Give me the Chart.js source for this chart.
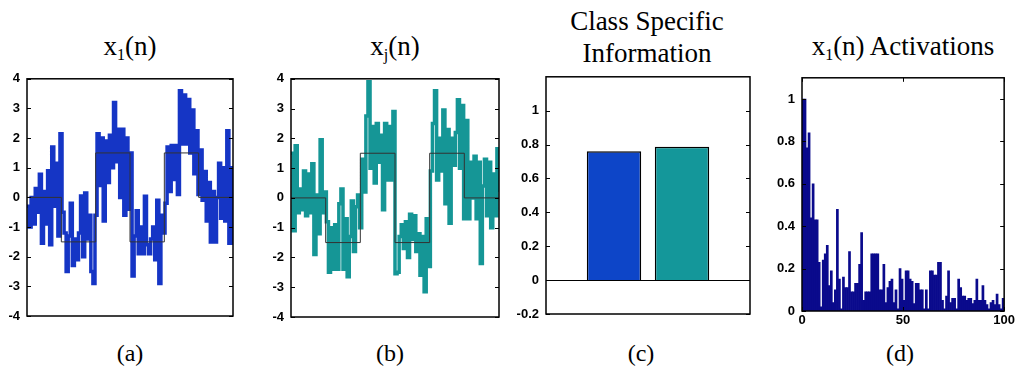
<!DOCTYPE html>
<html><head><meta charset="utf-8">
<script src="https://cdn.jsdelivr.net/npm/chart.js@4.4.1/dist/chart.umd.min.js"></script>
<style>
body{margin:0;width:1016px;height:367px;background:#fff;position:relative;overflow:hidden;font-family:'Liberation Serif','Times New Roman',serif;color:#000;}
canvas{position:absolute;}
.t{position:absolute;width:300px;text-align:center;font-size:27px;line-height:30px;white-space:nowrap;}
.t2{line-height:32px;}
.t sub{font-size:16px;vertical-align:-5px;line-height:0;}
.cap{position:absolute;width:100px;text-align:center;font-size:24px;line-height:26px;}
</style></head><body>
<div class="t" style="left:-20px;top:31px">x<sub>1</sub>(n)</div>
<div class="t" style="left:245px;top:31px">x<sub>j</sub>(n)</div>
<div class="t t2" style="left:497px;top:5px">Class Specific<br>Information</div>
<div class="t" style="left:753px;top:31px">x<sub>1</sub>(n) Activations</div>
<div class="cap" style="left:80px;top:340px">(a)</div>
<div class="cap" style="left:340px;top:340px">(b)</div>
<div class="cap" style="left:591px;top:340px">(c)</div>
<div class="cap" style="left:850px;top:340px">(d)</div>
<canvas id="ca"></canvas>
<canvas id="cb"></canvas>
<canvas id="cc"></canvas>
<canvas id="cd"></canvas>
<script>
// ---- data ----
const x1Values = [
 -0.3, -1.0, 0.0, -0.9, 0.3, -0.5, 0.78, -1.55, 0.2, -0.9,
 0.9, -1.6, 1.7, -0.3, 1.15, -1.3, 2.15, -0.5, -1.2, -2.5,
 -1.3, -0.2, -2.3, -1.4, -2.1, -1.2, 0.05, -2.0, 0.15, -1.4,
 -0.6, -2.5, -2.9, -0.6, 2.15, 0.4, 2.0, -0.8, 1.9, 0.5,
 2.1, 1.0, 3.2, 1.2, 2.3, 0.0, 2.3, -0.6, 2.0, -0.4,
 1.5, -2.65, -1.3, -0.45, -1.9, -1.0, -1.9, 0.04, -1.6, -1.9,
 -1.4, -1.0, -2.1, -0.1, -2.9, -0.6, -1.2, -0.2, 1.7, 0.2,
 1.75, 0.6, 1.75, 0.1, 3.6, 1.8, 3.45, 1.8, 3.3, 1.5,
 2.95, 0.8, 2.25, 0.1, 1.6, -0.1, 0.87, -0.8, 0.5, -1.5,
 0.2, -1.5, 0.0, 1.15, -0.7, 1.0, -0.8, 2.25, -1.55, 1.0,
 -1.6
];
const xjValues = [
 1.5, -1.1, 1.75, -0.5, 0.3, -0.4, 0.9, -0.6, 0.8, -0.5,
 1.15, -1.9, 0.1, -1.2, 1.95, -0.5, 0.2, -0.8, -2.5, -1.0,
 -2.4, -0.9, -2.4, -0.2, 0.3, -2.4, -0.7, -2.65, -1.3, -0.1,
 -1.8, -0.3, 0.1, -1.0, 1.3, 0.2, 2.75, 3.9, 1.0, 2.4,
 0.5, 2.5, 1.2, 2.1, -0.4, 2.5, 0.6, 2.4, 0.6, 2.9,
 -2.55, -2.5, -1.3, -0.9, -1.7, -0.8, -2.0, -0.55, -1.4, -0.6,
 -1.8, -1.2, -2.6, -1.3, -3.15, -0.7, -2.3, 0.9, 2.5, 3.6,
 0.6, 2.0, 0.9, 2.95, -0.2, 2.3, -0.85, 2.0, 1.1, 2.2,
 3.3, 1.0, 3.1, -0.7, 2.6, -0.7, 1.2, 0.0, 1.4, -0.7,
 1.2, -2.2, 0.4, 1.3, -0.6, 1.2, -1.0, 0.8, -0.6, 1.65,
 0.2
];
const stepBreaks = [0, 16.67, 33.33, 50, 66.67, 83.33, 100];
const stepLevels = [0, -1.5, 1.5, -1.5, 1.5, 0, 0];
const classPositions = [1, 2];
const classInfo = [0.76, 0.787];
const activations = [
 1.0, 1.0, 0.77, 0.84, 0.44, 0.6, 0.43, 0.43, 0.23, 0.02,
 0.24, 0.27, 0.31, 0.12, 0.19, 0.04, 0.1, 0.48, 0.15, 0.01,
 0.16, 0.11, 0.11, 0.28, 0.09, 0.09, 0.13, 0.13, 0.22, 0.37,
 0.05, 0.09, 0.09, 0.09, 0.27, 0.27, 0.27, 0.27, 0.1, 0.1,
 0.22, 0.04, 0.11, 0.14, 0.15, 0.04, 0.1, 0.01, 0.2, 0.15,
 0.05, 0.19, 0.19, 0.15, 0.14, 0.035, 0.13, 0.13, 0.1, 0.1,
 0.01, 0.1, 0.01, 0.19, 0.19, 0.17, 0.17, 0.23, 0.23, 0.05,
 0.01, 0.07, 0.19, 0.04, 0.06, 0.06, 0.01, 0.15, 0.11, 0.07,
 0.07, 0.05, 0.06, 0.06, 0.035, 0.05, 0.15, 0.05, 0.05, 0.12,
 0.05, 0.03, 0.01, 0.04, 0.05, 0.03, 0.08, 0.03, 0.01, 0.06
];
const activationXTicks = [0, 50, 100];

// ---- helpers ----
const TICK_FONT = {family: "'Liberation Sans Narrow','Liberation Sans',Arial,sans-serif", size: 13, weight: 'bold'};
const near = (a, b) => Math.abs(a - b) < 1e-6;
const fmt = v => String(Math.round(v * 10) / 10);

const framePlugin = {
  id: 'frame',
  afterDraw(chart, args, opts) {
    const {ctx, chartArea: a, scales} = chart;
    const len = 4;
    ctx.save();
    ctx.strokeStyle = '#000';
    ctx.lineWidth = 1;
    const ys = scales.y;
    ys.ticks.forEach(t => {
      if ((opts.ySkip || []).some(s => near(s, t.value))) return;
      const p = Math.round(ys.getPixelForValue(t.value)) + 0.5;
      ctx.beginPath();
      ctx.moveTo(a.left, p); ctx.lineTo(a.left + len, p);
      ctx.moveTo(a.right, p); ctx.lineTo(a.right - len, p);
      ctx.stroke();
    });
    if (opts.xTicks) {
      const xs = scales.x;
      xs.ticks.forEach(t => {
        const p = Math.round(xs.getPixelForValue(t.value)) + 0.5;
        ctx.beginPath();
        ctx.moveTo(p, a.bottom); ctx.lineTo(p, a.bottom - len);
        ctx.moveTo(p, a.top); ctx.lineTo(p, a.top + len);
        ctx.stroke();
      });
    }
    ctx.lineWidth = 1.5;
    ctx.strokeRect(a.left, a.top, a.right - a.left, a.bottom - a.top);
    ctx.restore();
  }
};

function panel(id, L, T, R, B, padL, padB, xVisible, type, datasets, scales, frameOpts) {
  const padT = 10, padR = 12;
  const cv = document.getElementById(id);
  const w = R - L + padL + padR, h = B - T + padT + padB;
  cv.width = w; cv.height = h;
  cv.style.left = (L - padL) + 'px'; cv.style.top = (T - padT) + 'px';
  cv.style.width = w + 'px'; cv.style.height = h + 'px';
  scales.y.afterFit = s => { s.width = padL; };
  if (xVisible) scales.x.afterFit = s => { s.height = padB; };
  return new Chart(cv, {
    type: type,
    data: {datasets: datasets},
    options: {
      responsive: false, maintainAspectRatio: false, animation: false,
      devicePixelRatio: 1,
      layout: {autoPadding: false, padding: {left: 0, top: padT, right: padR, bottom: xVisible ? 0 : padB}},
      plugins: {legend: {display: false}, tooltip: {enabled: false}, frame: frameOpts},
      scales: scales
    },
    plugins: [framePlugin]
  });
}

function signalScales() {
  return {
    x: {type: 'linear', display: false, min: 0, max: 100},
    y: {type: 'linear', min: -4, max: 4,
        ticks: {stepSize: 1, color: '#000', font: TICK_FONT, padding: 7},
        grid: {display: false, drawTicks: false}, border: {display: false}}
  };
}
function signalSets(values, color) {
  return [
    {data: stepBreaks.map((x, i) => ({x: x, y: stepLevels[i]})), borderColor: '#333', borderWidth: 1,
     stepped: true, pointRadius: 0, fill: false},
    {data: values.map((v, i) => ({x: i, y: v})), borderColor: color, borderWidth: 3.5,
     stepped: true, pointRadius: 0, fill: false, borderJoinStyle: 'miter', borderCapStyle: 'butt'}
  ];
}

// (a)
panel('ca', 27, 74, 233, 316, 40, 20, false, 'line', signalSets(x1Values, '#1535c5'), signalScales(), {});
// (b)
panel('cb', 291, 74, 499, 317, 40, 20, false, 'line', signalSets(xjValues, '#159696'), signalScales(), {});
// (c)
panel('cc', 546, 72, 750, 314, 40, 20, false, 'bar',
  [{data: classPositions.map((x, i) => ({x: x, y: classInfo[i]})),
    backgroundColor: ['#0d45c8', '#14979a'], borderColor: '#000', borderWidth: 1.5,
    barPercentage: 0.8, categoryPercentage: 1}],
  {
    x: {type: 'linear', display: false, min: 0, max: 3, offset: false},
    y: {type: 'linear', min: -0.2, max: 1.2,
        ticks: {stepSize: 0.2, color: '#000', font: TICK_FONT, padding: 7,
                callback: v => near(v, 1.2) ? '' : fmt(v)},
        grid: {drawTicks: false, color: c => (c.tick && near(c.tick.value, 0)) ? '#000' : 'rgba(0,0,0,0)', lineWidth: 1},
        border: {display: false}}
  }, {ySkip: [1.2]});
// (d)
panel('cd', 802, 73, 1005, 311, 40, 22, true, 'bar',
  [{data: activations.map((v, i) => ({x: i + 0.5, y: v})),
    backgroundColor: '#0a0a8c', borderWidth: 0, barPercentage: 1, categoryPercentage: 1}],
  {
    x: {type: 'linear', min: 0, max: 100, offset: false,
        afterBuildTicks: s => { s.ticks = activationXTicks.map(v => ({value: v})); },
        ticks: {color: '#000', font: TICK_FONT, padding: 2, maxRotation: 0},
        grid: {display: false, drawTicks: false, offset: false}, border: {display: false}},
    y: {type: 'linear', min: 0, max: 1.1,
        ticks: {stepSize: 0.2, color: '#000', font: TICK_FONT, padding: 7,
                callback: v => near(v, 1.1) ? '' : fmt(v)},
        grid: {display: false, drawTicks: false}, border: {display: false}}
  }, {ySkip: [1.1], xTicks: true});
</script>
</body></html>
